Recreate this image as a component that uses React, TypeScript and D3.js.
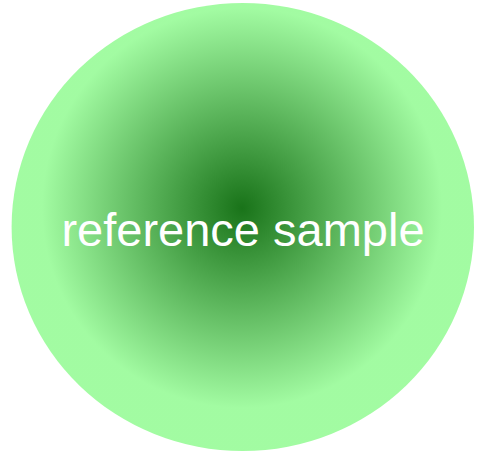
import React, { useRef, useEffect } from 'react';
import * as d3 from 'd3';

// one ellipse, radial gradient, a label
const gradientStops = [
  { offset: 0, color: '#006400' },
  { offset: 1, color: '#98fb98' },
];
const label = 'reference sample';

const App = () => {
  const ref = useRef(null);

  const width = 481;
  const height = 454;
  const cx = 242.8;
  const cy = 227;
  const rx = 231.2;
  const ry = 224;

  useEffect(() => {
    d3.select(ref.current).select('svg').remove();

    const svg = d3.select(ref.current).append('svg')
      .attr('width', width)
      .attr('height', height)
      .style('display', 'block');

    const grad = svg.append('defs').append('radialGradient')
      .attr('id', 'blob')
      .attr('gradientUnits', 'userSpaceOnUse')
      .attr('cx', 242).attr('cy', 208).attr('r', 200);
    grad.selectAll('stop')
      .data(gradientStops)
      .enter().append('stop')
      .attr('offset', d => (d.offset * 100) + '%')
      .attr('stop-color', d => d.color);

    svg.append('ellipse')
      .attr('cx', cx).attr('cy', cy)
      .attr('rx', rx).attr('ry', ry)
      .attr('fill', 'url(#blob)')
      .attr('fill-opacity', 0.9);

    svg.append('text')
      .attr('x', 243)
      .attr('y', 246)
      .attr('text-anchor', 'middle')
      .attr('fill', '#fff')
      .style('font-family', '"Liberation Sans", Arial, sans-serif')
      .style('font-size', '47px')
      .text(label);
  }, []);

  return <div ref={ref} style={{ position: 'absolute', left: 0, top: 0 }} />;
};

export default App;
